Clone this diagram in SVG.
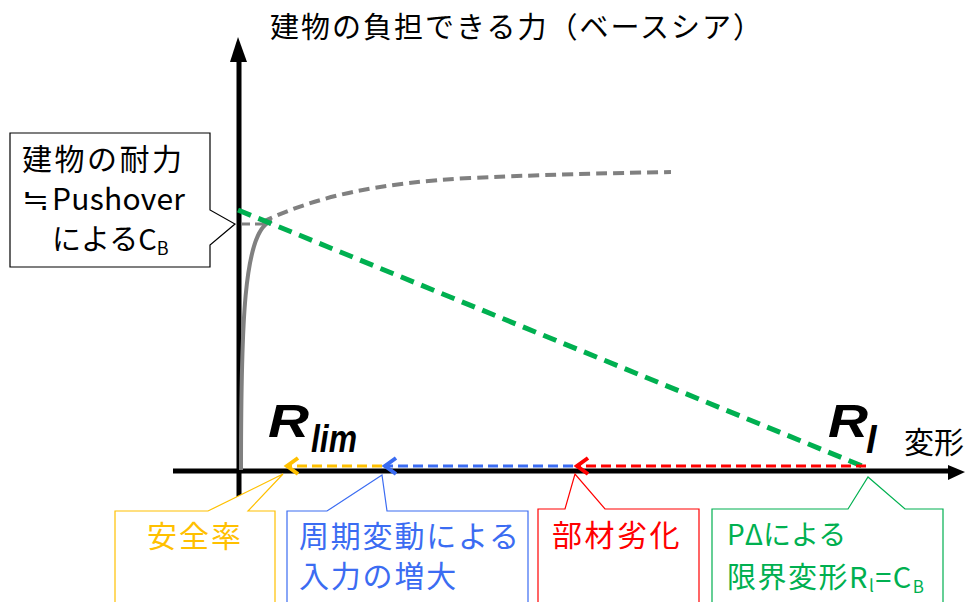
<svg xmlns="http://www.w3.org/2000/svg" width="965" height="602" viewBox="0 0 965 602">
<style>
.jp{font-family:"Noto Sans CJK JP","Noto Sans",sans-serif;}
.rl{font-family:"Liberation Sans",Arial,sans-serif;font-weight:bold;font-style:italic;fill:#000;}
.callout{fill:#fff;stroke-width:1.2;}
</style>
<rect width="965" height="602" fill="#fff"/>

<g id="axes">
<line x1="239" y1="60" x2="239" y2="505" stroke="#000" stroke-width="5"/>
<polygon points="238,37 230,62 247,62" fill="#000"/>
<line x1="173" y1="471" x2="950" y2="471" stroke="#000" stroke-width="5"/>
<polygon points="965,472 948,465 948,480" fill="#000"/>
<text class="jp" x="270" y="38" font-size="29" letter-spacing="2">建物の負担できる力（ベースシア）</text>
<text class="jp" x="904" y="453" font-size="30">変形</text>
</g>

<g id="curves">
<path d="M241,470 C241,330 243,228 272,221" fill="none" stroke="#808080" stroke-width="4"/>
<line x1="241" y1="224" x2="270" y2="224" stroke="#808080" stroke-width="3" stroke-dasharray="9,5"/>
<path d="M262,222 C320,195 380,183 470,178 C560,174 620,173 671,172" fill="none" stroke="#808080" stroke-width="4" stroke-dasharray="11,6"/>
<line x1="238" y1="210" x2="867" y2="468" stroke="#00B050" stroke-width="5" stroke-dasharray="14,8"/>
</g>

<g id="connectors">
<line x1="866" y1="466" x2="578" y2="466" stroke="#FF0000" stroke-width="3" stroke-dasharray="10,5"/>
<polyline points="588,458 577,466 588,474" fill="none" stroke="#FF0000" stroke-width="4"/>
<line x1="573" y1="466" x2="386" y2="466" stroke="#3B6CF2" stroke-width="3" stroke-dasharray="10,5"/>
<polyline points="396,458 385,466 396,474" fill="none" stroke="#3B6CF2" stroke-width="4"/>
<line x1="382" y1="466" x2="288" y2="466" stroke="#FFC000" stroke-width="3" stroke-dasharray="10,5"/>
<polyline points="298,458 287,466 298,474" fill="none" stroke="#FFC000" stroke-width="4"/>
</g>

<g id="label-rlim">
<text class="rl" x="268" y="437" font-size="47" textLength="41" lengthAdjust="spacingAndGlyphs">R</text>
<text class="rl" x="311" y="452" font-size="38" textLength="46" lengthAdjust="spacingAndGlyphs">lim</text>
</g>
<g id="label-rl">
<text class="rl" x="828" y="437" font-size="47" textLength="40" lengthAdjust="spacingAndGlyphs">R</text>
<text class="rl" x="866" y="453" font-size="38">l</text>
</g>

<g id="node-strength">
<path class="callout" stroke="#000" d="M10,133 H210 V210 L235,224 L210,245 V267 H10 Z"/>
<text class="jp" x="22" y="170" font-size="30" letter-spacing="2.5">建物の耐力</text>
<text class="jp" x="22" y="210" font-size="30" textLength="27" lengthAdjust="spacingAndGlyphs">≒</text>
<text class="jp" x="52" y="210" font-size="30" textLength="133">Pushover</text>
<text class="jp" x="52" y="250" font-size="29">によるC<tspan font-size="18" dy="5">B</tspan></text>
</g>

<g id="node-safety">
<path class="callout" stroke="#FFC000" d="M115,511 H208 L283,474 L248,511 H275 V612 H115 Z"/>
<text class="jp" x="147" y="547" font-size="30" fill="#FFC000" letter-spacing="2">安全率</text>
</g>

<g id="node-cyclic">
<path class="callout" stroke="#3B6CF2" d="M287,511 H327 L382,475 L387,511 H528 V612 H287 Z"/>
<text class="jp" x="299" y="547" font-size="30" fill="#3B6CF2" letter-spacing="1.8">周期変動による</text>
<text class="jp" x="299" y="587" font-size="30" fill="#3B6CF2" letter-spacing="1.8">入力の増大</text>
</g>

<g id="node-degradation">
<path class="callout" stroke="#FF0000" d="M538,509 H565 L575,474 L605,509 H699 V612 H538 Z"/>
<text class="jp" x="552" y="546" font-size="30" fill="#FF0000" letter-spacing="2.5">部材劣化</text>
</g>

<g id="node-pdelta">
<path class="callout" stroke="#00B050" d="M712,509 H848 L868,477 L905,509 H943 V612 H712 Z"/>
<text class="jp" x="727" y="545" font-size="28" fill="#00B050">PΔによる</text>
<text class="jp" x="727" y="588" font-size="29" fill="#00B050" letter-spacing="1.5">限界変形R<tspan font-size="17" dy="4">l</tspan><tspan dy="-4">=C</tspan><tspan font-size="17" dy="5">B</tspan></text>
</g>
</svg>
